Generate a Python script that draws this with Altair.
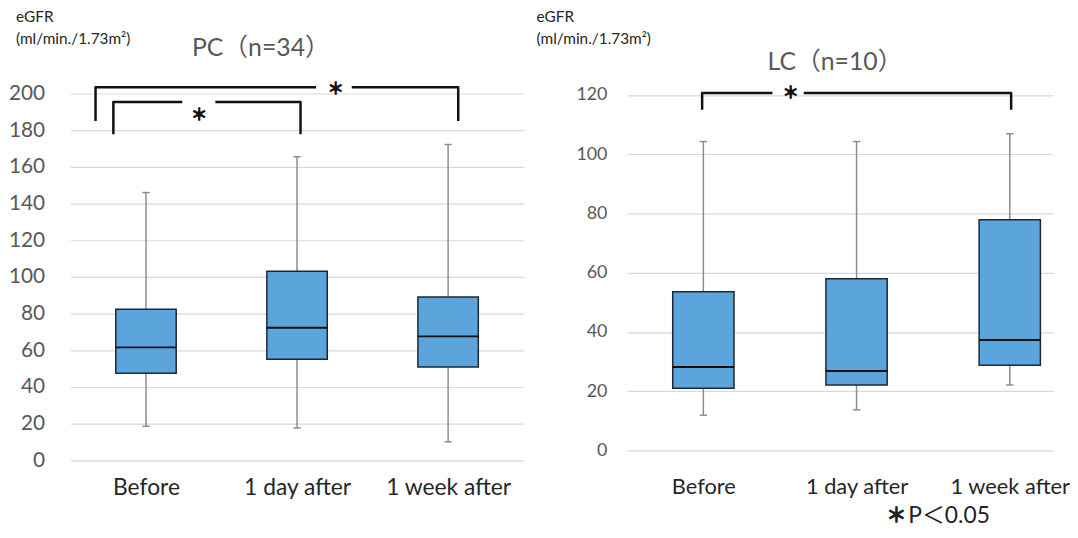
import json
import altair as alt
import pandas as pd

# ---------------- data ----------------
groups = ["Before", "1 day after", "1 week after"]
positions = [0.5, 1.5, 2.5]

pc_low = [18.6, 17.7, 10.1]
pc_q1 = [47.5, 55.1, 50.9]
pc_med = [61.6, 72.3, 67.6]
pc_q3 = [82.4, 103.1, 89.1]
pc_high = [146.0, 165.5, 172.2]

lc_low = [11.9, 13.7, 22.1]
lc_q1 = [21.0, 22.1, 28.8]
lc_med = [28.2, 26.8, 37.3]
lc_q3 = [53.6, 58.0, 77.9]
lc_high = [104.3, 104.3, 106.9]

pc_ticks = [0, 20, 40, 60, 80, 100, 120, 140, 160, 180, 200]
lc_ticks = [0, 20, 40, 60, 80, 100, 120]

# significance brackets (x in category units, y in eGFR units)
pc_br_left = [0.166, 0.284]
pc_br_right = [2.567, 1.523]
pc_br_top = [203.4, 195.3]
pc_br_bottom = [185.0, 177.8]
pc_gap_lo = [1.626, 0.740]
pc_gap_hi = [1.862, 0.959]
pc_star_x = [1.755, 0.852]
pc_star_y = [202.3, 188.3]

lc_br_left = [0.492]
lc_br_right = [2.509]
lc_br_top = [120.7]
lc_br_bottom = [115.0]
lc_gap_lo = [0.951]
lc_gap_hi = [1.155]
lc_star_x = [1.07]
lc_star_y = [120.7]

unit_lines = ["eGFR", "(ml/min./1.73m²)"]
pc_title = "PC（n=34）"
lc_title = "LC（n=10）"
footnote_star = "＊"
footnote_text = "P＜0.05"
star = "＊"

FONT = "Lato, Noto Sans CJK JP, sans-serif"
CJK = "Noto Sans CJK JP"
BOX_FILL = "#5ba5dc"
BOX_STROKE = "#1c2833"
WHISKER = "#8c8c8c"
GRID = "#d9d9d9"
LABEL = "#595959"


def bracket_table(left, right, top, bottom, gap_lo, gap_hi):
    rows = []
    for i in range(len(left)):
        seg_a = [(left[i], bottom[i]), (left[i], top[i]), (gap_lo[i], top[i])]
        seg_b = [(gap_hi[i], top[i]), (right[i], top[i]), (right[i], bottom[i])]
        for s, seg in enumerate([seg_a, seg_b]):
            for o, (xx, yy) in enumerate(seg):
                rows.append({"seg": f"{i}-{s}", "ord": o, "bx": xx, "by": yy})
    return pd.DataFrame(rows)


def text_layer(txt, px, py, size, color, align="left", font=FONT, stroke_w=0,
               baseline="middle"):
    kw = dict(align=align, baseline=baseline, fontSize=size, color=color, font=font)
    if stroke_w > 0:
        kw.update(stroke=color, strokeWidth=stroke_w)
    return alt.Chart(pd.DataFrame({"t": [txt]})).mark_text(**kw).encode(
        x=alt.value(px), y=alt.value(py), text="t:N")


def panel(low, q1, med, q3, high, ticks, ymax, width, height, xmax,
          ylab_size, ylab_pad, xlab_size, xlab_pad,
          br, star_x, star_y, star_size, texts):
    df = pd.DataFrame({"g": groups, "pos": positions, "low": low, "q1": q1,
                       "med": med, "q3": q3, "high": high})
    xs = alt.Scale(domain=[0, xmax], nice=False, zero=False)
    ys = alt.Scale(domain=[0, ymax], nice=False)
    label_expr = "%s[floor(datum.value)]" % json.dumps(groups)
    xaxis = alt.Axis(values=positions, labelExpr=label_expr, domain=False,
                     ticks=False, grid=False, title=None, labelFontSize=xlab_size,
                     labelColor="#262626", labelPadding=xlab_pad, labelFont=FONT)
    yaxis = alt.Axis(values=ticks, domain=False, ticks=False, grid=True,
                     gridColor=GRID, gridWidth=1.2, title=None,
                     labelFontSize=ylab_size, labelColor=LABEL,
                     labelPadding=ylab_pad, labelFont=FONT)

    def X(f):
        return alt.X(f, scale=xs, axis=xaxis, title=None)

    def Y(f):
        return alt.Y(f, scale=ys, axis=yaxis, title=None)

    base = alt.Chart(df).transform_calculate(
        lo="datum.pos - 0.2", hi="datum.pos + 0.2",
        clo="datum.pos - 0.024", chi="datum.pos + 0.024")

    whisk = base.mark_rule(color=WHISKER, strokeWidth=1.5).encode(
        x=X("pos:Q"), y=Y("low:Q"), y2="high:Q")
    cap_hi = base.mark_rule(color=WHISKER, strokeWidth=1.5).encode(
        x=X("clo:Q"), x2="chi:Q", y=Y("high:Q"))
    cap_lo = base.mark_rule(color=WHISKER, strokeWidth=1.5).encode(
        x=X("clo:Q"), x2="chi:Q", y=Y("low:Q"))
    box = base.mark_rect(fill=BOX_FILL, stroke=BOX_STROKE, strokeWidth=1.5).encode(
        x=X("lo:Q"), x2="hi:Q", y=Y("q1:Q"), y2="q3:Q")
    median = base.mark_rule(color="#111111", strokeWidth=2).encode(
        x=X("lo:Q"), x2="hi:Q", y=Y("med:Q"))

    bdf = bracket_table(*br)
    brackets = alt.Chart(bdf).mark_line(
        color="#111111", strokeWidth=2.5, strokeJoin="round", interpolate="linear"
    ).encode(x=X("bx:Q"), y=Y("by:Q"), detail="seg:N", order="ord:Q")
    sdf = pd.DataFrame({"sx": star_x, "sy": star_y, "t": [star] * len(star_x)})
    stars = alt.Chart(sdf).mark_text(
        fontSize=star_size, font=CJK, color="#111111", stroke="#111111",
        strokeWidth=1.3, baseline="middle", align="center"
    ).encode(x=X("sx:Q"), y=Y("sy:Q"), text="t:N")

    layers = [whisk, cap_hi, cap_lo, box, median, brackets, stars] + texts
    return alt.layer(*layers).properties(width=width, height=height)


left = panel(
    pc_low, pc_q1, pc_med, pc_q3, pc_high, pc_ticks, 200, 457, 370, 3.0,
    21, 26, 23, 16,
    (pc_br_left, pc_br_right, pc_br_top, pc_br_bottom, pc_gap_lo, pc_gap_hi),
    pc_star_x, pc_star_y, 16,
    [
        text_layer(unit_lines[0], -55, -84, 15.5, "#262626", baseline="top"),
        text_layer(unit_lines[1], -55, -62, 15.5, "#262626", baseline="top"),
        text_layer(pc_title, 192, -46.3, 25, LABEL, align="center"),
    ],
)

right = panel(
    lc_low, lc_q1, lc_med, lc_q3, lc_high, lc_ticks, 120.52, 430, 360, 430 / 154.5,
    18, 20, 22, 26,
    (lc_br_left, lc_br_right, lc_br_top, lc_br_bottom, lc_gap_lo, lc_gap_hi),
    lc_star_x, lc_star_y, 16,
    [
        text_layer(unit_lines[0], -91, -84, 15.5, "#262626", baseline="top"),
        text_layer(unit_lines[1], -91, -62, 15.5, "#262626", baseline="top"),
        text_layer(lc_title, 210, -31.8, 25, LABEL, align="center"),
        text_layer(footnote_star, 262, 426, 20, "#222222", font=CJK, stroke_w=1.3),
        text_layer(footnote_text, 284, 426, 23, "#222222"),
    ],
)

chart = alt.hconcat(left, right, spacing=104, bounds="flush", padding=0).configure_view(
    stroke=None
)

chart.save("out.html", embed_options={"renderer": "svg", "actions": False})
